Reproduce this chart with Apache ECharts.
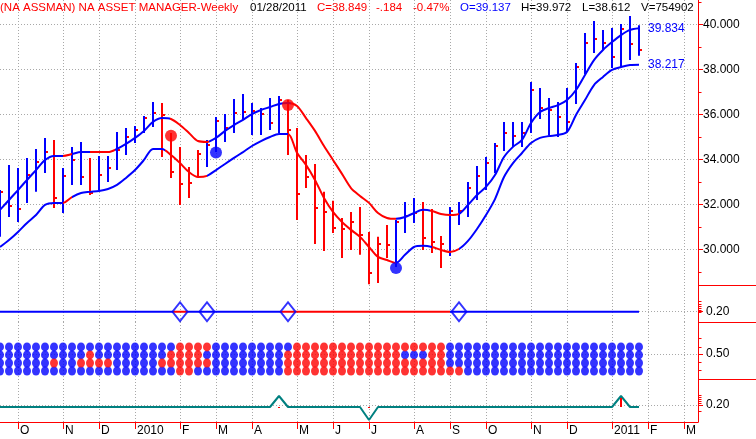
<!DOCTYPE html>
<html>
<head>
<meta charset="utf-8">
<title>NA ASSET MANAGER - Weekly</title>
<script src="https://cdn.jsdelivr.net/npm/echarts@6.0.0/dist/echarts.min.js"></script>
<style>
html,body{margin:0;padding:0;background:#ffffff;}
#chart{width:756px;height:439px;}
</style>
</head>
<body>
<div id="chart"></div>
<script>
// ================= DATA =================
// week index 0 = 2009-09-18, one entry per weekly bar, last = 2011-01-28
const headerTexts = ['(NA ASSMAN) NA ASSET MANAGER-Weekly', '01/28/2011', 'C=38.849', '-.184', '-0.47%', 'O=39.137', 'H=39.972', 'L=38.612', 'V=754902'];

const monthTickWeeks  = [2, 7, 11, 15, 20, 24, 28, 33, 37, 41, 46, 50, 54, 59, 63, 68, 72, 76];
const monthTickLabels = ['O','N','D','2010','F','M','A','M','J','J','A','S','O','N','D','2011','F','M'];

const priceTicks = [30, 32, 34, 36, 38, 40];
const priceMinorTicks = [29, 31, 33, 35, 37, 39, 41];

const high = [32.64,33.76,33.62,34.07,34.47,34.96,34.87,33.62,34.56,34.78,
  34.07,34.16,34.16,35.22,35.40,35.49,35.93,36.56,36.51,35.18,
  34.56,33.67,34.42,34.87,35.89,36.02,36.69,36.91,36.51,36.29,
  36.73,36.82,36.64,35.40,34.20,33.80,32.56,32.16,31.40,31.67,
  31.89,30.78,30.56,31.09,31.31,32.11,32.29,32.11,31.80,30.60,
  31.89,32.11,33.00,33.71,34.11,34.73,35.67,35.67,35.67,37.44,
  37.18,36.73,36.56,37.18,38.29,39.62,40.16,39.76,39.84,40.02,
  40.38,39.972];
const low = [30.56,31.44,31.22,32.07,32.56,33.40,31.84,31.62,32.87,32.87,
  32.42,32.64,33.00,33.53,34.20,34.73,35.18,35.44,34.11,33.18,
  31.98,32.29,33.22,33.67,34.33,34.78,35.18,35.76,35.09,35.09,
  35.31,35.18,34.20,31.31,32.73,30.24,29.93,30.73,29.62,29.98,
  29.76,28.45,28.51,29.62,29.22,30.73,31.18,29.98,29.84,29.18,
  29.71,31.09,31.44,32.20,32.64,33.40,34.38,34.56,34.56,35.18,
  35.80,35.09,35.00,35.22,36.47,37.80,38.73,38.87,38.07,38.11,
  38.42,38.612];
const close = [32.56,31.93,31.80,33.31,33.89,34.33,32.29,33.27,33.98,33.22,
  32.51,33.31,33.62,34.42,35.00,35.31,35.84,36.07,35.98,33.44,
  32.91,32.96,34.24,34.64,35.71,35.40,36.07,36.11,36.16,36.02,
  35.62,36.64,35.31,32.47,33.22,31.84,31.67,30.96,30.91,31.22,
  30.64,28.96,30.24,30.20,31.22,31.49,31.62,30.51,30.33,30.24,
  31.71,31.71,32.73,33.27,33.84,34.60,35.18,35.04,35.18,37.09,
  36.29,36.20,35.89,35.67,38.11,39.18,39.36,39.18,38.56,39.80,
  39.13,38.849];
// 1 = red (down-trend) bar, 0 = blue bar
const barState = [0,0,0,0,0,0,1,0,0,0, 1,0,0,0,0,0,0,0,1,1,
  1,1,1,0,0,0,0,0,0,0, 0,0,1,1,1,1,1,1,1,1,
  1,1,1,1,0,0,0,1,1,1, 0,0,0,0,0,0,0,0,0,0,
  0,0,0,0,0,0,0,0,0,0, 0,0];

const upperBand = [31.76,32.20,32.64,33.09,33.53,33.98,34.16,34.16,34.24,34.33,
  34.33,34.33,34.33,34.47,34.69,34.96,35.27,35.67,35.84,35.80,
  35.53,35.18,34.82,34.78,34.96,35.27,35.53,35.76,36.02,36.20,
  36.33,36.47,36.51,36.38,35.84,35.27,34.60,33.98,33.36,32.73,
  32.38,32.07,31.62,31.40,31.36,31.44,31.62,31.76,31.71,31.58,
  31.53,31.58,31.98,32.42,32.78,33.31,34.11,34.56,34.87,35.62,
  36.11,36.29,36.42,36.64,37.09,37.76,38.42,38.87,39.22,39.53,
  39.76,39.834];
const lowerBand = [30.11,30.42,30.78,31.18,31.53,31.98,32.07,32.07,32.33,32.51,
  32.56,32.60,32.69,32.87,33.18,33.53,33.98,34.47,34.47,34.20,
  33.84,33.44,33.22,33.27,33.53,33.80,34.07,34.33,34.60,34.82,
  35.00,35.13,35.13,34.30,33.76,33.09,32.29,31.67,31.22,30.87,
  30.56,30.11,29.67,29.53,29.40,29.76,30.11,30.16,30.11,29.98,
  29.89,30.02,30.38,30.91,31.53,32.24,33.22,33.84,34.29,34.73,
  34.96,35.04,35.09,35.22,35.98,36.64,37.31,37.67,37.98,38.11,
  38.20,38.217];
// week ranges where each band is drawn red
const upperRedSpans = [[7, 8], [10, 12.8], [18.9, 23.2], [32.3, 44], [47.8, 51]];
const lowerRedSpans = [[7, 8], [18.3, 23], [32, 44], [48, 51]];
// big signal dots: [week, price, 1 = red / 0 = blue]
const signalDots = [[19, 35.05, 1], [24, 34.31, 0], [32, 36.42, 1], [44, 29.18, 0]];

// panel 2 : state line with diamond markers
const stateLine = [[0, 0.20], [71, 0.20]];
const stateRedSpans = [[19.2, 20.9], [31.1, 50]];
const diamondWeeks = [20, 23, 32, 51];

// panel 3 : 4 rows of state dots (1 = red, 0 = blue), top row first
const dotRow1 = [0,0,0,0,0,0,0,0,0,0, 0,0,0,0,0,0,0,0,0,0,
  1,1,1,1,0,0,0,0,0,0, 0,0,0,1,1,1,1,1,1,1,
  1,1,1,1,1,1,1,1,1,1, 0,0,0,0,0,0,0,0,0,0,
  0,0,0,0,0,0,0,0,0,0, 0,0];
const dotRow2 = [0,0,0,0,0,0,0,0,0,0, 1,0,0,0,0,0,0,0,0,1,
  1,1,1,0,0,0,0,0,0,0, 0,0,1,1,1,1,1,1,1,1,
  1,1,1,1,1,0,0,0,1,1, 0,0,0,0,0,0,0,0,0,0,
  0,0,0,0,0,0,0,0,0,0, 0,0];
const dotRow3 = [0,0,0,0,0,0,1,0,0,1, 1,1,1,0,0,0,0,0,1,1,
  1,1,1,1,0,0,0,0,0,0, 0,0,1,1,1,1,1,1,1,1,
  1,1,1,1,1,1,1,1,1,1, 0,0,0,0,0,0,0,0,0,0,
  0,0,0,0,0,0,0,0,0,0, 0,0];
const dotRow4 = [0,0,0,0,0,0,0,0,0,0, 0,0,0,0,0,0,0,0,0,0,
  1,1,0,0,0,0,0,0,0,0, 0,0,1,1,1,1,1,1,1,1,
  1,1,1,1,1,1,1,1,1,1, 1,1,0,0,0,0,0,0,0,0,
  0,0,0,0,0,0,0,0,0,0, 0,0];
const dotRowLevels = [0.59, 0.49, 0.39, 0.29];

// panel 4 : oscillator line
const oscLine = [0.18,0.18,0.18,0.18,0.18,0.18,0.18,0.18,0.18,0.18,
  0.18,0.18,0.18,0.18,0.18,0.18,0.18,0.18,0.18,0.18,
  0.18,0.18,0.18,0.18,0.18,0.18,0.18,0.18,0.18,0.18,
  0.18,0.29,0.18,0.18,0.18,0.18,0.18,0.18,0.18,0.18,
  0.18,0.05,0.18,0.18,0.18,0.18,0.18,0.18,0.18,0.18,
  0.18,0.18,0.18,0.18,0.18,0.18,0.18,0.18,0.18,0.18,
  0.18,0.18,0.18,0.18,0.18,0.18,0.18,0.18,0.18,0.29,
  0.18,0.18];
// red marks in panel 4: [week, from, to]
const oscMarks = [[31, 0.17, 0.18], [41, 0.17, 0.18], [69, 0.18, 0.27]];

const panelLabelValues = [0.20, 0.50, 0.20];
// small scale ticks of the three lower panels
const panelMinorTicks = [
  [0.19, 0.23, 0.28, 0.32, 0.36, 0.40],
  [0.30, 0.405, 0.59, 0.70],
  [0.143, 0.217, 0.243, 0.263, 0.283, 0.30]
];

// ================= STYLE / LAYOUT =================
const BLUE = '#0000ff', RED = '#ff0000', TEAL = '#008080', GRIDC = '#a8a8a8';
const FONT = '"Liberation Sans", Arial, Helvetica, sans-serif';
const PLOT_W = 698;
const X_MAX = 77.556;
const grids = [
  {left: 0, top: 0,   width: PLOT_W, height: 285},
  {left: 0, top: 285, width: PLOT_W, height: 37},
  {left: 0, top: 322, width: PLOT_W, height: 57},
  {left: 0, top: 379, width: PLOT_W, height: 43}
];
const yRanges = [[28.42, 41.09], [0, 0.72], [0.19, 0.90], [0.03, 0.46]];
const headerStyle = [
  {x: 0, c: RED}, {x: 250, c: '#000'}, {x: 317, c: RED}, {x: 376, c: RED}, {x: 413, c: RED},
  {x: 460, c: BLUE}, {x: 521, c: '#000'}, {x: 582, c: '#000'}, {x: 641, c: '#000'}
];

const dotted = {show: true, lineStyle: {color: GRIDC, width: 1, type: [1, 2]}};

function xAxisFor(i) {
  const bottom = i === 3;
  return {
    type: 'value', gridIndex: i, min: 0, max: X_MAX,
    axisLine: {show: bottom, onZero: false, lineStyle: {color: RED, width: 1}},
    axisTick: {show: bottom, customValues: monthTickWeeks, length: 7, lineStyle: {color: RED, width: 1}},
    axisLabel: {
      show: bottom, customValues: monthTickWeeks, align: 'left', margin: 3,
      padding: [0, 0, 0, 2], color: '#000', fontSize: 12, fontFamily: FONT,
      formatter: v => monthTickLabels[monthTickWeeks.indexOf(Math.round(v))] || ''
    },
    splitLine: dotted
  };
}

function yAxisFor(i, labelVals, fmt, margin) {
  return {
    type: 'value', gridIndex: i, position: 'right', min: yRanges[i][0], max: yRanges[i][1],
    axisLine: {show: true, onZero: false, lineStyle: {color: RED, width: 1}},
    axisTick: {show: true, customValues: labelVals, length: 5, lineStyle: {color: RED}},
    axisLabel: {show: true, customValues: labelVals, formatter: fmt, margin: margin,
      color: '#000', fontSize: 12, fontFamily: FONT},
    splitLine: dotted
  };
}

// small ticks drawn just right of the value axis through the axis scale
function minorTickSeries(i, vals) {
  return {
    type: 'custom', xAxisIndex: i, yAxisIndex: i, z: 5, clip: false, silent: true,
    data: vals.map(v => [X_MAX, v]),
    renderItem: function (params, api) {
      const p = api.coord([api.value(0), api.value(1)]);
      const y = Math.round(p[1]) + 0.5;
      return {type: 'line', shape: {x1: p[0], y1: y, x2: p[0] + 3.5, y2: y}, style: {stroke: RED, lineWidth: 1}};
    }
  };
}

function spanPieces(spans, base, hi) {
  const pieces = []; let cur = -1000;
  spans.forEach(([a, b]) => {
    pieces.push({gte: cur, lt: a, color: base});
    pieces.push({gte: a, lt: b, color: hi});
    cur = b;
  });
  pieces.push({gte: cur, lte: 1000, color: base});
  return pieces;
}

const weeks = high.map((_, k) => k);
const barData = weeks.map(k => [k, high[k], low[k], close[k], barState[k]]);

const blueDots = [], redDots = [];
[dotRow1, dotRow2, dotRow3, dotRow4].forEach((row, r) => {
  row.forEach((s, k) => (s ? redDots : blueDots).push([k, dotRowLevels[r]]));
});

const chart = echarts.init(document.getElementById('chart'), null, {renderer: 'canvas'});

const option = {
  animation: false,
  backgroundColor: '#ffffff',
  textStyle: {fontFamily: FONT},
  grid: grids,
  xAxis: [0, 1, 2, 3].map(xAxisFor),
  yAxis: [
    yAxisFor(0, priceTicks, v => v.toFixed(3), 5),
    yAxisFor(1, [panelLabelValues[0]], v => v.toFixed(2), 8),
    yAxisFor(2, [panelLabelValues[1]], v => v.toFixed(2), 8),
    yAxisFor(3, [panelLabelValues[2]], v => v.toFixed(2), 8)
  ],
  visualMap: [
    {type: 'piecewise', show: false, dimension: 0, seriesIndex: 1, pieces: spanPieces(upperRedSpans, BLUE, RED)},
    {type: 'piecewise', show: false, dimension: 0, seriesIndex: 2, pieces: spanPieces(lowerRedSpans, BLUE, RED)},
    {type: 'piecewise', show: false, dimension: 0, seriesIndex: 4, pieces: spanPieces(stateRedSpans, BLUE, RED)}
  ],
  series: [
    { // 0 price bars
      type: 'custom', xAxisIndex: 0, yAxisIndex: 0, z: 2,
      data: barData,
      renderItem: function (params, api) {
        const k = api.value(0);
        const top = api.coord([k, api.value(1)]);
        const bot = api.coord([k, api.value(2)]);
        const c = api.coord([k, api.value(3)]);
        const col = api.value(4) ? RED : BLUE;
        const x = Math.round(top[0]);
        return {type: 'group', children: [
          {type: 'rect', shape: {x: x - 1, y: top[1], width: 2, height: bot[1] - top[1]}, style: {fill: col}},
          {type: 'rect', shape: {x: x + 1, y: Math.round(c[1]) - 1, width: 2, height: 2}, style: {fill: RED}}
        ]};
      }
    },
    { // 1 upper band
      type: 'line', xAxisIndex: 0, yAxisIndex: 0, z: 3, smooth: 0.3, showSymbol: false,
      data: weeks.map(k => [k, upperBand[k]]), lineStyle: {width: 2},
      endLabel: {show: true, color: BLUE, fontSize: 12, fontFamily: FONT, distance: 9,
        formatter: p => p.value[1].toFixed(3)}
    },
    { // 2 lower band
      type: 'line', xAxisIndex: 0, yAxisIndex: 0, z: 3, smooth: 0.3, showSymbol: false,
      data: weeks.map(k => [k, lowerBand[k]]), lineStyle: {width: 2},
      endLabel: {show: true, color: BLUE, fontSize: 12, fontFamily: FONT, distance: 9,
        formatter: p => p.value[1].toFixed(3)}
    },
    { // 3 signal dots
      type: 'scatter', xAxisIndex: 0, yAxisIndex: 0, z: 4, symbolSize: 12,
      data: signalDots.map(d => ({value: [d[0], d[1]], itemStyle: {color: d[2] ? RED : BLUE}}))
    },
    { // 4 state line
      type: 'line', xAxisIndex: 1, yAxisIndex: 1, z: 3, showSymbol: false,
      data: stateLine, lineStyle: {width: 2}
    },
    { // 5 diamonds
      type: 'scatter', xAxisIndex: 1, yAxisIndex: 1, z: 4, symbol: 'diamond', symbolSize: [15, 19],
      data: diamondWeeks.map(k => [k, stateLine[0][1]]),
      itemStyle: {color: 'rgba(0,0,0,0)', borderColor: BLUE, borderWidth: 2}
    },
    { // 6 blue dots
      type: 'scatter', xAxisIndex: 2, yAxisIndex: 2, z: 3, symbol: 'circle', symbolSize: [8, 9],
      data: blueDots, itemStyle: {color: BLUE}
    },
    { // 7 red dots
      type: 'scatter', xAxisIndex: 2, yAxisIndex: 2, z: 3, symbol: 'circle', symbolSize: [8, 9],
      data: redDots, itemStyle: {color: RED}
    },
    { // 8 oscillator
      type: 'line', xAxisIndex: 3, yAxisIndex: 3, z: 3, showSymbol: false,
      data: weeks.map(k => [k, oscLine[k]]), lineStyle: {width: 2, color: TEAL}, itemStyle: {color: TEAL}
    },
    { // 9 oscillator marks
      type: 'custom', xAxisIndex: 3, yAxisIndex: 3, z: 4,
      data: oscMarks,
      renderItem: function (params, api) {
        const k = api.value(0);
        const a = api.coord([k, api.value(1)]);
        const b = api.coord([k, api.value(2)]);
        const x = Math.round(a[0]);
        return {type: 'rect', shape: {x: x - 1, y: Math.min(a[1], b[1]), width: 2, height: Math.max(1, Math.abs(a[1] - b[1]))},
          style: {fill: RED}};
      }
    },
    minorTickSeries(0, priceMinorTicks),
    minorTickSeries(1, panelMinorTicks[0]),
    minorTickSeries(2, panelMinorTicks[1]),
    minorTickSeries(3, panelMinorTicks[2])
  ],
  graphic: [
    ...headerTexts.map((t, i) => ({
      type: 'text', left: headerStyle[i].x, top: 2, z: 100,
      style: {text: t, fill: headerStyle[i].c, font: '11.5px ' + FONT}
    })),
    ...[285, 322, 379].map(y => ({
      type: 'line', z: 100,
      shape: {x1: PLOT_W, y1: y + 0.5, x2: 756, y2: y + 0.5},
      style: {stroke: RED, lineWidth: 1}
    }))
  ]
};
chart.setOption(option);
</script>
</body>
</html>
